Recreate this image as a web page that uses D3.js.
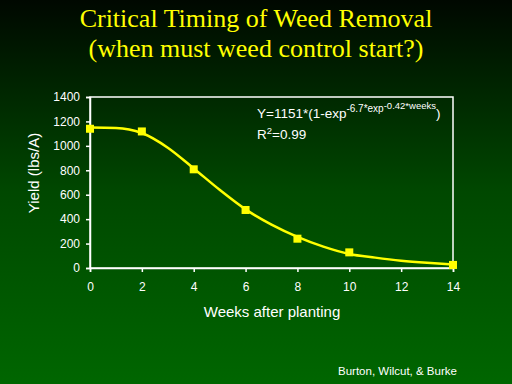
<!DOCTYPE html>
<html><head><meta charset="utf-8">
<script src="https://cdn.jsdelivr.net/npm/d3@7"></script>
<style>html,body{margin:0;padding:0;background:#000;}svg{display:block;}</style>
</head><body>
<script>
const weeks = [0, 2, 4, 6, 8, 10, 14];
const yieldObs = [1140, 1118, 808, 475, 240, 128, 25];
const curveWeeks = [0, 1, 2, 3, 4, 5, 6, 7, 8, 9, 10, 11, 12, 13, 14];
const curveYield = [1150, 1147, 1105, 985, 815, 640, 480, 355, 255, 175, 115, 85, 60, 42, 28];
const xTicks = [0, 2, 4, 6, 8, 10, 12, 14];
const yTicks = [0, 200, 400, 600, 800, 1000, 1200, 1400];
const titleLines = ["Critical Timing of Weed Removal", "(when must weed control start?)"];

const W = 512, H = 384;
const m = {left: 90, right: 59, top: 97, bottom: 116};
const svg = d3.select("body").append("svg").attr("width", W).attr("height", H);
const defs = svg.append("defs");
const g = defs.append("linearGradient").attr("id", "bg").attr("x1", 0).attr("y1", 0).attr("x2", 0).attr("y2", 1);
g.append("stop").attr("offset", "0").attr("stop-color", "#000800");
g.append("stop").attr("offset", "0.5").attr("stop-color", "#004800");
g.append("stop").attr("offset", "1").attr("stop-color", "#006600");
svg.append("rect").attr("width", W).attr("height", H).attr("fill", "url(#bg)");

svg.selectAll("text.title").data(titleLines).join("text")
  .attr("class", "title")
  .attr("x", 256).attr("y", (d, i) => 27 + i * 30)
  .attr("text-anchor", "middle")
  .attr("font-family", "'Liberation Serif', 'Times New Roman', serif")
  .attr("font-size", 26).attr("fill", "#ffff00").text(d => d);

const x = d3.scaleLinear().domain([0, 14]).range([m.left, W - m.right]);
const y = d3.scaleLinear().domain([0, 1400]).range([H - m.bottom, m.top]);

// plot frame
svg.append("rect").attr("x", m.left).attr("y", m.top)
  .attr("width", x(14) - x(0)).attr("height", y(0) - y(1400))
  .attr("fill", "none").attr("stroke", "#ffffff").attr("stroke-width", 1.5);

const xAxis = svg.append("g").attr("transform", `translate(0,${y(0)})`)
  .call(d3.axisBottom(x).tickValues(xTicks).tickSize(4).tickPadding(10).tickFormat(d3.format("d")));
const yAxis = svg.append("g").attr("transform", `translate(${x(0)},0)`)
  .call(d3.axisLeft(y).tickValues(yTicks).tickSize(4).tickPadding(6).tickFormat(d3.format("d")));
[xAxis, yAxis].forEach(a => {
  a.select(".domain").attr("stroke", "#fff").attr("stroke-width", 1.5);
  a.selectAll(".tick line").attr("stroke", "#fff").attr("stroke-width", 1.5);
  a.selectAll(".tick text").attr("fill", "#fff").attr("font-size", 12)
    .attr("font-family", "'Liberation Sans', Arial, sans-serif");
});

const line = d3.line().x((d, i) => x(curveWeeks[i])).y(d => y(d)).curve(d3.curveMonotoneX);
svg.append("path").datum(curveYield).attr("d", line)
  .attr("fill", "none").attr("stroke", "#ffff00").attr("stroke-width", 2.5);

const s = 8;
svg.selectAll("rect.pt").data(yieldObs).join("rect").attr("class", "pt")
  .attr("x", (d, i) => x(weeks[i]) - s / 2).attr("y", d => y(d) - s / 2)
  .attr("width", s).attr("height", s).attr("fill", "#ffff00");

const sans = "'Liberation Sans', Arial, sans-serif";
svg.append("text").attr("x", 272).attr("y", 317).attr("text-anchor", "middle")
  .attr("font-family", sans).attr("font-size", 15).attr("fill", "#fff").text("Weeks after planting");
svg.append("text").attr("transform", "translate(39,173) rotate(-90)").attr("text-anchor", "middle")
  .attr("font-family", sans).attr("font-size", 15).attr("fill", "#fff").text("Yield (lbs/A)");

const eq = svg.append("text").attr("x", 257).attr("y", 118).attr("font-family", sans)
  .attr("font-size", 13.5).attr("fill", "#fff");
eq.append("tspan").text("Y=1151*(1-exp");
eq.append("tspan").attr("font-size", 10).attr("dy", -6).text("-6.7*exp");
eq.append("tspan").attr("font-size", 9.5).attr("dy", -3).text("-0.42*weeks");
eq.append("tspan").attr("dy", 9).text(")");
const r2 = svg.append("text").attr("x", 257).attr("y", 139).attr("font-family", sans)
  .attr("font-size", 13.5).attr("fill", "#fff");
r2.append("tspan").text("R");
r2.append("tspan").attr("font-size", 9.5).attr("dy", -5).text("2");
r2.append("tspan").attr("dy", 5).text("=0.99");

svg.append("text").attr("x", 338).attr("y", 375).attr("font-family", sans)
  .attr("font-size", 11.5).attr("fill", "#fff").text("Burton, Wilcut, & Burke");
</script>
</body></html>
